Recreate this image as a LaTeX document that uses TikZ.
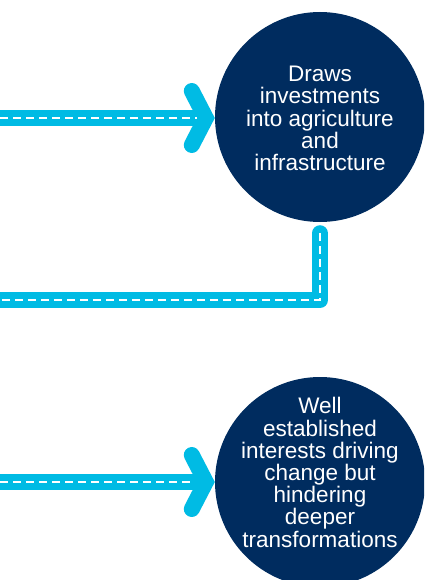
\documentclass[tikz,border=0pt]{standalone}
\usepackage{fontspec}
\setmainfont{Liberation Sans}
\usetikzlibrary{calc}
\definecolor{navy}{RGB}{0,44,95}
\definecolor{cyanline}{RGB}{0,187,228}
\begin{document}
\begin{tikzpicture}[x=1pt,y=-1pt,
 bubble/.style={circle,fill=navy,minimum size=210pt,inner sep=0pt},
 bubbletext/.style={text=white,align=center,font=\fontsize{22.5}{22.2}\selectfont,inner sep=0pt},
 shaft/.style={draw=cyanline,line width=16pt,line cap=butt,line join=round},
 chev/.style={draw=cyanline,line width=16pt,line cap=round,line join=miter},
 lane/.style={draw=white,line width=2pt,dash pattern=on 8pt off 5pt}]
\useasboundingbox (0,0) rectangle (424,580);
\clip (0,0) rectangle (424,580);
% circles
\node[bubble] (c1) at (320,117) {};
\node[bubble] (c2) at (320,482) {};
\node[bubbletext] (t1) at (320,118.5) {Draws\\investments\\into agriculture\\and\\infrastructure};
\node[bubbletext] (t2) at (320,472.5) {Well\\established\\interests driving\\change but\\hindering\\deeper\\transformations};
% arrow 1
\coordinate (s1) at (0,118);
\coordinate (tip1) at ($(c1.west)+(-9,1)$);
\draw[shaft] (s1) -- (tip1);
\draw[chev] ($(tip1)+(-14,-27)$) -- (tip1) -- ($(tip1)+(-14,27)$);
\draw[lane] (s1) -- ($(tip1)+(-9,0)$);
% loop line
\coordinate (l0) at ($(c1.south)+(0,11)$);
\coordinate (bend) at (320,300);
\coordinate (lend) at (0,300);
\draw[shaft,line cap=round] (l0) -- (bend) -- (lend);
\draw[lane] (l0) -- (bend) -- (lend);
% arrow 2
\coordinate (s2) at (0,482);
\coordinate (tip2) at ($(c2.west)+(-9,0)$);
\draw[shaft] (s2) -- (tip2);
\draw[chev] ($(tip2)+(-14,-27)$) -- (tip2) -- ($(tip2)+(-14,27)$);
\draw[lane] (s2) -- ($(tip2)+(-12,0)$);
\end{tikzpicture}
\end{document}
